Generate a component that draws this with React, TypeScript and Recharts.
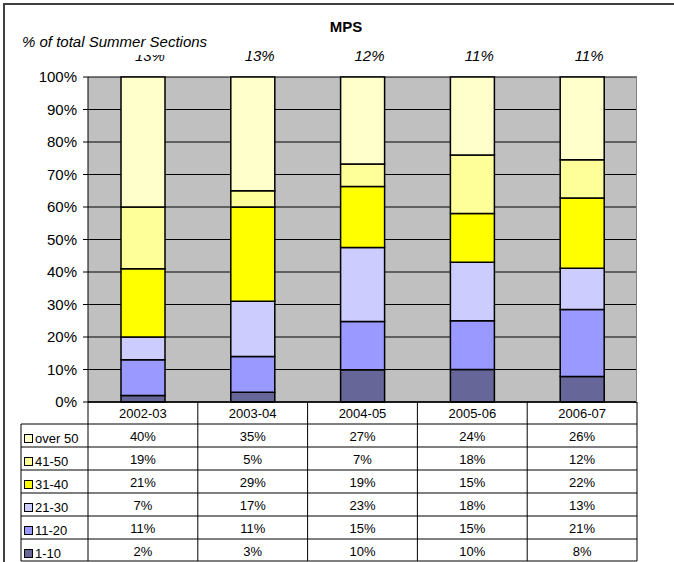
import React from 'react';
import { BarChart, Bar, XAxis, YAxis, CartesianGrid } from 'recharts';

const years = ['2002-03', '2003-04', '2004-05', '2005-06', '2006-07'];
const totalShare = ['13%', '13%', '12%', '11%', '11%'];
const size1to10 = [2, 3, 10, 10, 8];
const size11to20 = [11, 11, 15, 15, 21];
const size21to30 = [7, 17, 23, 18, 13];
const size31to40 = [21, 29, 19, 15, 22];
const size41to50 = [19, 5, 7, 18, 12];
const sizeOver50 = [40, 35, 27, 24, 26];
const yTicks = [0, 0.1, 0.2, 0.3, 0.4, 0.5, 0.6, 0.7, 0.8, 0.9, 1];

// table order (top to bottom); stacking order is the reverse
const seriesList = [
  { key: 'over50', name: 'over 50', values: sizeOver50, color: '#FFFFCC' },
  { key: 's41_50', name: '41-50', values: size41to50, color: '#FFFF99' },
  { key: 's31_40', name: '31-40', values: size31to40, color: '#FFFF00' },
  { key: 's21_30', name: '21-30', values: size21to30, color: '#CCCCFF' },
  { key: 's11_20', name: '11-20', values: size11to20, color: '#9999FF' },
  { key: 's1_10', name: '1-10', values: size1to10, color: '#666699' },
];

const data = years.map((y, i) => {
  const row: any = { year: y, total: totalShare[i] };
  seriesList.forEach((s) => {
    row[s.key] = s.values[i];
  });
  return row;
});

const FONT = "Arial, 'Liberation Sans', sans-serif";
const W = 674;
const H = 562;
const PLOT_L = 88;
const PLOT_R = 637;
const PLOT_T = 77;
const PLOT_B = 402;
const BAND = (PLOT_R - PLOT_L) / years.length;
const HEADER_B = 424;
const ROW_H = 23;
const TABLE_L = 21;
const TABLE_BOTTOM = 561;

function TableTick(props: any) {
  const { x, index, payload } = props;
  const right = x + BAND / 2;
  const left = x - BAND / 2;
  return (
    <g>
      {index === 0 && (
        <g>
          <line x1={TABLE_L} y1={HEADER_B} x2={TABLE_L} y2={TABLE_BOTTOM} stroke="#000" strokeWidth={1} />
          <line x1={left} y1={PLOT_B} x2={left} y2={TABLE_BOTTOM} stroke="#000" strokeWidth={1} />
          {seriesList.map((s, j) => {
            const top = HEADER_B + j * ROW_H;
            return (
              <g key={s.key}>
                <line x1={TABLE_L} y1={top} x2={PLOT_R} y2={top} stroke="#000" strokeWidth={1} />
                <rect x={24.5} y={top + 10.5} width={8} height={8} fill={s.color} stroke="#000" strokeWidth={1} />
                <text x={35} y={top + 18.5} fontSize={13} fontFamily={FONT} fill="#000">
                  {s.name}
                </text>
              </g>
            );
          })}
          <line x1={TABLE_L} y1={TABLE_BOTTOM} x2={PLOT_R} y2={TABLE_BOTTOM} stroke="#000" strokeWidth={1} />
        </g>
      )}
      <line x1={right} y1={PLOT_B} x2={right} y2={TABLE_BOTTOM} stroke="#000" strokeWidth={1} />
      <text x={x} y={PLOT_B + 16} textAnchor="middle" fontSize={13} fontFamily={FONT} fill="#000">
        {payload.value}
      </text>
      {seriesList.map((s, j) => (
        <text
          key={s.key}
          x={x}
          y={HEADER_B + j * ROW_H + 17}
          textAnchor="middle"
          fontSize={13}
          fontFamily={FONT}
          fill="#000"
        >
          {s.values[index]}%
        </text>
      ))}
    </g>
  );
}

function TopTick(props: any) {
  const { x, index } = props;
  return (
    <text x={x + 7} y={61} textAnchor="middle" fontSize={15} fontStyle="italic" fontFamily={FONT} fill="#000">
      {totalShare[index]}
    </text>
  );
}

export default function App() {
  const stackOrder = [...seriesList].reverse();
  return (
    <div style={{ position: 'absolute', left: 0, top: 0, width: W, height: H, overflow: 'hidden', background: '#fff' }}>
      <BarChart
        width={W}
        height={H}
        data={data}
        stackOffset="expand"
        margin={{ top: 57, right: W - PLOT_R, bottom: 0, left: PLOT_L - 60 }}
      >
        <CartesianGrid
          xAxisId="bottom"
          vertical={false}
          stroke="#000"
          strokeWidth={1}
          fill="#C0C0C0"
          fillOpacity={1}
        />
        <XAxis
          xAxisId="top"
          orientation="top"
          dataKey="year"
          height={PLOT_T - 57}
          axisLine={false}
          tickLine={false}
          interval={0}
          tick={<TopTick />}
        />
        <XAxis
          xAxisId="bottom"
          dataKey="year"
          height={H - PLOT_B}
          axisLine={{ stroke: '#000', strokeWidth: 1.5 }}
          tickLine={false}
          interval={0}
          tick={<TableTick />}
        />
        <YAxis
          width={60}
          domain={[0, 1]}
          ticks={yTicks}
          tickFormatter={(v: number) => `${Math.round(v * 100)}%`}
          tick={{ fontSize: 15, fill: '#000', fontFamily: FONT }}
          axisLine={{ stroke: '#000' }}
          tickLine={{ stroke: '#000' }}
          tickSize={5}
          tickMargin={6}
        />
        {stackOrder.map((s) => (
          <Bar
            key={s.key}
            xAxisId="bottom"
            dataKey={s.key}
            name={s.name}
            stackId="a"
            fill={s.color}
            stroke="#000"
            strokeWidth={1.5}
            barSize={44}
            isAnimationActive={false}
          />
        ))}
      </BarChart>
      <div
        style={{
          position: 'absolute',
          left: PLOT_R - 1,
          top: PLOT_T,
          width: 1,
          height: PLOT_B - PLOT_T,
          background: '#808080',
        }}
      />
      <div
        style={{
          position: 'absolute',
          left: 0,
          top: 0,
          width: W,
          textAlign: 'center',
          paddingLeft: 18,
          boxSizing: 'border-box',
          top: 19,
          fontFamily: FONT,
          fontWeight: 'bold',
          fontSize: 15,
          lineHeight: '15px',
          color: '#000',
        }}
      >
        MPS
      </div>
      <div
        style={{
          position: 'absolute',
          left: 20,
          top: 34,
          width: 229,
          height: 21,
          background: '#fff',
          fontFamily: FONT,
          fontStyle: 'italic',
          fontSize: 15,
          lineHeight: '15px',
          color: '#000',
          paddingLeft: 2,
          boxSizing: 'border-box',
        }}
      >
        % of total Summer Sections
      </div>
      <div
        style={{
          position: 'absolute',
          left: 3,
          top: 3,
          width: W + 20,
          height: H + 20,
          border: '2px solid #404040',
          boxSizing: 'border-box',
          pointerEvents: 'none',
        }}
      />
    </div>
  );
}
